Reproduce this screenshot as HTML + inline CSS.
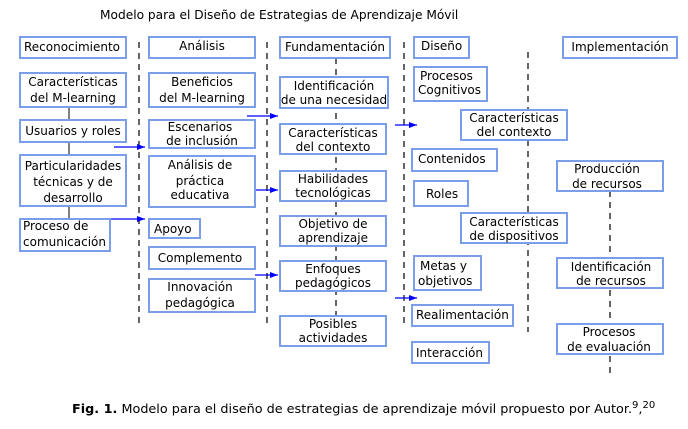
<!DOCTYPE html>
<html><head><meta charset="utf-8"><style>
html,body{margin:0;padding:0;background:#fff;width:688px;height:429px;overflow:hidden}
svg{display:block}
text{font-family:"DejaVu Sans","Liberation Sans",sans-serif;font-size:12px;fill:#000}
.b{fill:#fff;stroke:#7b9ee8;stroke-width:2}
.d{stroke:#000;stroke-width:1.2;stroke-dasharray:6,5}
.a{stroke:#0000ff;stroke-width:1.3}
</style></head><body>
<svg width="688" height="429" viewBox="0 0 688 429">
<defs><marker id="m" markerWidth="8" markerHeight="6" refX="8" refY="3" orient="auto" markerUnits="userSpaceOnUse"><path d="M0,0 L8,3 L0,6 Z" fill="#0000ff"/></marker></defs>
<text x="100" y="19" style="font-size:12.2px">Modelo para el Diseño de Estrategias de Aprendizaje Móvil</text>

<line class="d" x1="139" y1="42" x2="139" y2="326"/>
<line class="d" x1="267" y1="42" x2="267" y2="326"/>
<line class="d" x1="336" y1="58" x2="336" y2="316"/>
<line class="d" x1="404" y1="42" x2="404" y2="326"/>
<line class="d" x1="528" y1="52" x2="528" y2="332"/>
<line class="d" x1="610" y1="191" x2="610" y2="376"/>

<line x1="69" y1="107" x2="69" y2="219" stroke="#000" stroke-width="1"/>

<line class="a" x1="114" y1="147" x2="145" y2="147" marker-end="url(#m)"/>
<line class="a" x1="110" y1="219" x2="145" y2="219" marker-end="url(#m)"/>
<line class="a" x1="247" y1="116" x2="278" y2="116" marker-end="url(#m)"/>
<line class="a" x1="255" y1="190" x2="278" y2="190" marker-end="url(#m)"/>
<line class="a" x1="255" y1="275" x2="278" y2="275" marker-end="url(#m)"/>
<line class="a" x1="395" y1="125" x2="417" y2="125" marker-end="url(#m)"/>
<line class="a" x1="395" y1="298" x2="417" y2="298" marker-end="url(#m)"/>

<rect class="b" x="20" y="37" width="106" height="21"/><text x="72" y="51" text-anchor="middle">Reconocimiento</text>
<rect class="b" x="20" y="73" width="106" height="34"/><text x="73" y="86" text-anchor="middle">Características</text><text x="73" y="102" text-anchor="middle">del M-learning</text>
<rect class="b" x="20" y="120" width="106" height="22"/><text x="73" y="135" text-anchor="middle">Usuarios y roles</text>
<rect class="b" x="20" y="155" width="106" height="51"/><text x="73" y="170" text-anchor="middle">Particularidades</text><text x="73" y="186" text-anchor="middle">técnicas y de</text><text x="73" y="202" text-anchor="middle">desarrollo</text>
<rect class="b" x="20" y="219" width="90" height="32"/><text x="23" y="230">Proceso de</text><text x="23" y="246">comunicación</text>

<rect class="b" x="149" y="37" width="106" height="21"/><text x="202" y="50" text-anchor="middle">Análisis</text>
<rect class="b" x="149" y="73" width="106" height="34"/><text x="202" y="86" text-anchor="middle">Beneficios</text><text x="202" y="102" text-anchor="middle">del M-learning</text>
<rect class="b" x="149" y="120" width="106" height="28"/><text x="200" y="131" text-anchor="middle">Escenarios</text><text x="202" y="145" text-anchor="middle">de inclusión</text>
<rect class="b" x="149" y="156" width="106" height="51"/><text x="200" y="169" text-anchor="middle">Análisis de</text><text x="200" y="185" text-anchor="middle">práctica</text><text x="200" y="199" text-anchor="middle">educativa</text>
<rect class="b" x="149" y="219" width="51" height="19"/><text x="154" y="233">Apoyo</text>
<rect class="b" x="149" y="247" width="106" height="22"/><text x="200" y="262" text-anchor="middle">Complemento</text>
<rect class="b" x="149" y="279" width="106" height="33"/><text x="200" y="291" text-anchor="middle">Innovación</text><text x="200" y="307" text-anchor="middle">pedagógica</text>

<rect class="b" x="280" y="37" width="110" height="21"/><text x="335" y="51" text-anchor="middle">Fundamentación</text>
<rect class="b" x="280" y="77" width="108" height="31"/><text x="334" y="90" text-anchor="middle">Identificación</text><text x="334" y="104" text-anchor="middle">de una necesidad</text>
<rect class="b" x="280" y="124" width="106" height="30"/><text x="333" y="137" text-anchor="middle">Características</text><text x="333" y="151" text-anchor="middle">del contexto</text>
<rect class="b" x="280" y="171" width="106" height="30"/><text x="333" y="183" text-anchor="middle">Habilidades</text><text x="333" y="197" text-anchor="middle">tecnológicas</text>
<rect class="b" x="280" y="216" width="106" height="30"/><text x="333" y="228" text-anchor="middle">Objetivo de</text><text x="333" y="242" text-anchor="middle">aprendizaje</text>
<rect class="b" x="280" y="261" width="106" height="30"/><text x="333" y="273" text-anchor="middle">Enfoques</text><text x="333" y="287" text-anchor="middle">pedagógicos</text>
<rect class="b" x="280" y="316" width="106" height="30"/><text x="333" y="328" text-anchor="middle">Posibles</text><text x="333" y="342" text-anchor="middle">actividades</text>

<rect class="b" x="414" y="37" width="55" height="21"/><text x="421" y="50">Diseño</text>
<rect class="b" x="414" y="67" width="73" height="34"/><text x="420" y="80">Procesos</text><text x="418" y="94">Cognitivos</text>
<rect class="b" x="461" y="110" width="106" height="30"/><text x="514" y="122" text-anchor="middle">Características</text><text x="514" y="136" text-anchor="middle">del contexto</text>
<rect class="b" x="412" y="149" width="85" height="22"/><text x="418" y="163">Contenidos</text>
<rect class="b" x="414" y="181" width="54" height="25"/><text x="426" y="198">Roles</text>
<rect class="b" x="461" y="213" width="106" height="30"/><text x="514" y="226" text-anchor="middle">Características</text><text x="514" y="240" text-anchor="middle">de dispositivos</text>
<rect class="b" x="414" y="256" width="67" height="34"/><text x="420" y="270">Metas y</text><text x="418" y="285">objetivos</text>
<rect class="b" x="412" y="305" width="101" height="21"/><text x="416" y="319">Realimentación</text>
<rect class="b" x="412" y="342" width="77" height="21"/><text x="416" y="357">Interacción</text>

<rect class="b" x="563" y="37" width="114" height="21"/><text x="620" y="51" text-anchor="middle">Implementación</text>
<rect class="b" x="557" y="161" width="106" height="30"/><text x="607" y="173" text-anchor="middle">Producción</text><text x="607" y="188" text-anchor="middle">de recursos</text>
<rect class="b" x="557" y="258" width="106" height="30"/><text x="611" y="271" text-anchor="middle">Identificación</text><text x="611" y="285" text-anchor="middle">de recursos</text>
<rect class="b" x="557" y="324" width="106" height="30"/><text x="609" y="336" text-anchor="middle">Procesos</text><text x="609" y="351" text-anchor="middle">de evaluación</text>

<text x="72" y="413" style="font-size:12.8px"><tspan font-weight="bold">Fig. 1.</tspan> Modelo para el diseño de estrategias de aprendizaje móvil propuesto por Autor.<tspan dy="-5" style="font-size:10px">9</tspan><tspan dy="5">,</tspan><tspan dy="-5" style="font-size:10px">20</tspan></text>
</svg>
</body></html>
